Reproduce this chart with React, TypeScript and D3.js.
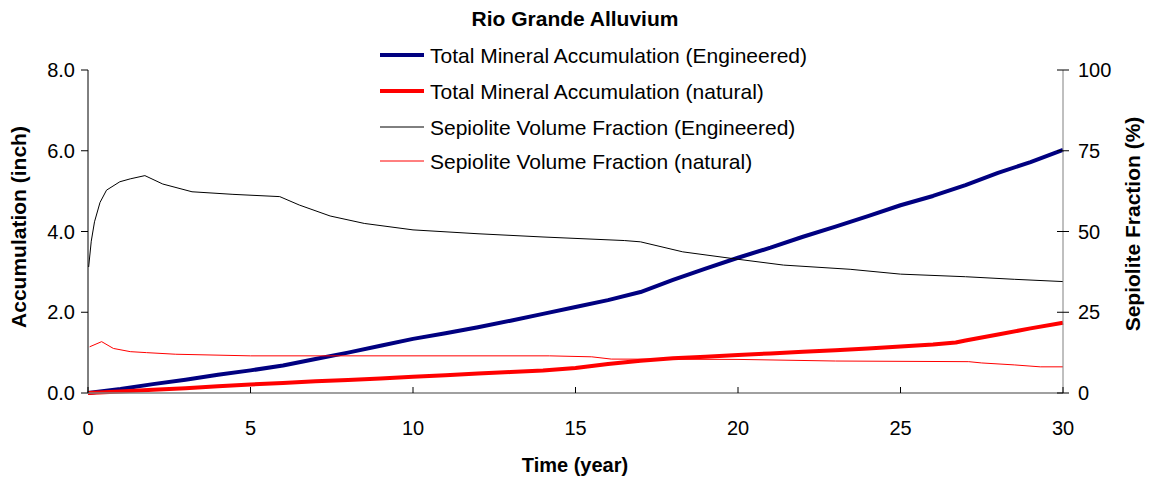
import React from "react";
import * as d3 from "d3";

const W = 1154;
const H = 483;

const title = "Rio Grande Alluvium";
const xLabel = "Time (year)";
const yLeftLabel = "Accumulation (inch)";
const yRightLabel = "Sepiolite Fraction (%)";

const xTicks = [0, 5, 10, 15, 20, 25, 30];
const yLeftTicks = [0, 2, 4, 6, 8];
const yRightTicks = [0, 25, 50, 75, 100];

const seriesNames = [
  "Total Mineral Accumulation (Engineered)",
  "Total Mineral Accumulation (natural)",
  "Sepiolite Volume Fraction (Engineered)",
  "Sepiolite Volume Fraction (natural)",
];

// Total mineral accumulation, engineered (inch)
const accEngT = [0, 1, 2, 3, 4, 5, 6, 7, 8, 9, 10, 11, 12, 13, 14, 15, 16, 17, 18, 19, 20, 21, 22, 23, 24, 25, 26, 27, 28, 29, 30];
const accEngV = [0, 0.1, 0.22, 0.33, 0.45, 0.56, 0.68, 0.84, 1.0, 1.17, 1.34, 1.48, 1.63, 1.79, 1.96, 2.13, 2.3, 2.5, 2.8, 3.08, 3.35, 3.6, 3.87, 4.12, 4.38, 4.65, 4.88, 5.15, 5.45, 5.72, 6.02];

// Total mineral accumulation, natural (inch)
const accNatT = [0, 1, 2, 3, 4, 5, 6, 7, 8, 9, 10, 11, 12, 13, 14, 15, 16, 17, 18, 19, 20, 21, 22, 23, 24, 25, 26, 26.7, 27, 28, 29, 30];
const accNatV = [0, 0.04, 0.08, 0.12, 0.17, 0.21, 0.25, 0.29, 0.32, 0.36, 0.4, 0.44, 0.48, 0.52, 0.56, 0.62, 0.72, 0.8, 0.86, 0.9, 0.94, 0.98, 1.02, 1.06, 1.1, 1.15, 1.2, 1.25, 1.3, 1.45, 1.6, 1.74];

// Sepiolite volume fraction, engineered (%)
const sepEngT = [0.02, 0.1, 0.2, 0.37, 0.57, 0.98, 1.3, 1.75, 2.3, 3.2, 4.46, 5.9, 6.5, 7.45, 8.5, 10, 12, 14, 16.5, 17, 18.3, 20, 21.4, 23.45, 25, 27, 28.5, 30];
const sepEngV = [39, 47, 53, 59, 62.8, 65.4, 66.3, 67.3, 64.7, 62.3, 61.5, 60.8, 58.2, 54.8, 52.5, 50.5, 49.3, 48.3, 47.2, 46.8, 43.7, 41.4, 39.6, 38.3, 36.8, 36, 35.2, 34.5];

// Sepiolite volume fraction, natural (%)
const sepNatT = [0.05, 0.42, 0.78, 1.3, 1.8, 2.7, 5, 10, 14.2, 15.5, 16.1, 20, 23, 27.1, 27.5, 28.5, 29.3, 30];
const sepNatV = [14.3, 15.9, 13.8, 12.8, 12.5, 12.0, 11.5, 11.5, 11.5, 11.2, 10.5, 10.4, 9.9, 9.7, 9.3, 8.7, 8.1, 8.1];

const FONT = "'Liberation Sans', Arial, sans-serif";

export default function App() {
  const m = { left: 88, right: 1063, top: 70, bottom: 393 };
  const x = d3.scaleLinear().domain([0, 30]).range([m.left, m.right]);
  const yL = d3.scaleLinear().domain([0, 8]).range([m.bottom, m.top]);
  const yR = d3.scaleLinear().domain([0, 100]).range([m.bottom, m.top]);

  const mk = (ts: number[], vs: number[], y: d3.ScaleLinear<number, number>) =>
    d3.line<number>().x((_, i) => x(ts[i])).y((v) => y(v))(vs) || "";

  const series = [
    { d: mk(accEngT, accEngV, yL), color: "#000080", w: 4 },
    { d: mk(accNatT, accNatV, yL), color: "#FF0000", w: 4 },
    { d: mk(sepEngT, sepEngV, yR), color: "#000000", w: 1 },
    { d: mk(sepNatT, sepNatV, yR), color: "#FF0000", w: 1 },
  ];

  const legendY = [55, 91, 127, 161];

  return (
    <svg width={W} height={H} style={{ position: "absolute", left: 0, top: 0, background: "#fff" }} fontFamily={FONT}>
      <rect width={W} height={H} fill="#fff" />
      <text x={575} y={26} textAnchor="middle" fontSize={21} fontWeight="bold">{title}</text>

      {/* series */}
      {series.map((s, i) => (
        <path key={i} d={s.d} fill="none" stroke={s.color} strokeWidth={s.w} strokeLinejoin="round" />
      ))}

      {/* axes */}
      <line x1={m.left} x2={m.left} y1={m.top} y2={m.bottom} stroke="#000" />
      <line x1={m.right} x2={m.right} y1={m.top} y2={m.bottom} stroke="#808080" />
      <line x1={m.left} x2={m.right} y1={m.bottom} y2={m.bottom} stroke="#808080" strokeWidth={1.5} />

      {yLeftTicks.map((t) => (
        <g key={"l" + t}>
          <line x1={m.left - 7} x2={m.left} y1={yL(t)} y2={yL(t)} stroke="#000" />
          <text x={m.left - 13} y={yL(t) + 7} textAnchor="end" fontSize={20}>{t.toFixed(1)}</text>
        </g>
      ))}
      {yRightTicks.map((t) => (
        <g key={"r" + t}>
          <line x1={m.right - 6} x2={m.right + 6} y1={yR(t)} y2={yR(t)} stroke="#000" />
          <text x={m.right + 15} y={yR(t) + 7} textAnchor="start" fontSize={20}>{t}</text>
        </g>
      ))}
      {xTicks.map((t) => (
        <g key={"x" + t}>
          <line x1={x(t)} x2={x(t)} y1={m.bottom - 6} y2={m.bottom} stroke="#000" />
          <text x={x(t)} y={435} textAnchor="middle" fontSize={20}>{t}</text>
        </g>
      ))}

      <text x={575} y={472} textAnchor="middle" fontSize={20} fontWeight="bold">{xLabel}</text>
      <text transform={`translate(26,227) rotate(-90)`} textAnchor="middle" fontSize={21} fontWeight="bold">{yLeftLabel}</text>
      <text transform={`translate(1140,224) rotate(-90)`} textAnchor="middle" fontSize={21} fontWeight="bold">{yRightLabel}</text>

      {/* legend */}
      {seriesNames.map((n, i) => (
        <g key={n}>
          <line x1={380} x2={424} y1={legendY[i]} y2={legendY[i]} stroke={series[i].color} strokeWidth={series[i].w} />
          <text x={430} y={legendY[i] + 8} fontSize={21}>{n}</text>
        </g>
      ))}
    </svg>
  );
}
